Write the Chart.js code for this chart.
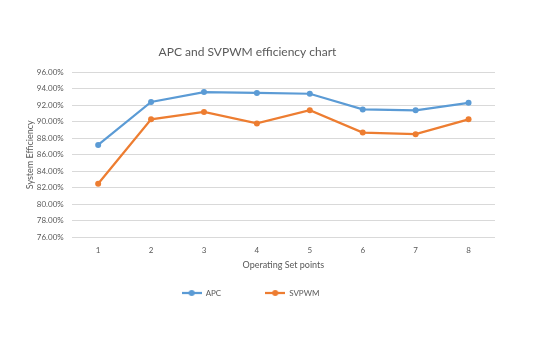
<!DOCTYPE html>
<html>
<head>
<meta charset="utf-8">
<script src="https://cdn.jsdelivr.net/npm/chart.js@4/dist/chart.umd.min.js"></script>
<style>
  html, body { margin: 0; padding: 0; background: #ffffff; }
  #wrap { width: 546px; height: 337px; }
</style>
</head>
<body>
<div id="wrap"><canvas id="c" width="546" height="337"></canvas></div>
<script>
// Operating set points and measured system efficiency (%) per controller
const setPoints = ['1', '2', '3', '4', '5', '6', '7', '8'];
const apcEfficiency = [87.2, 92.4, 93.6, 93.5, 93.4, 91.5, 91.4, 92.3];
const svpwmEfficiency = [82.5, 90.3, 91.2, 89.8, 91.4, 88.7, 88.5, 90.3];
const seriesNames = ['APC', 'SVPWM'];
const seriesColors = ['#5b9bd5', '#ed7d31'];
const yMin = 76, yMax = 96, yStep = 2;

const FONT = 'Lato, "Open Sans", "Liberation Sans", sans-serif';
const TEXT = '#595959';
const LEGEND_GAP = 44;

// Legend marker: short line with a dot in the middle, like the plotted series
function lineMarker(color) {
  const cv = document.createElement('canvas');
  cv.width = 20; cv.height = 8;
  const g = cv.getContext('2d');
  g.strokeStyle = color;
  g.lineWidth = 2.25;
  g.beginPath(); g.moveTo(0, 4); g.lineTo(20, 4); g.stroke();
  g.fillStyle = color;
  g.beginPath(); g.arc(10, 4, 3, 0, Math.PI * 2); g.fill();
  return cv;
}
const markers = seriesColors.map(lineMarker);

// Keep the legend box compact while leaving wide gaps between its items:
// the layout sees a 20px box, and drawing starts the row near its top.
const compactLegend = {
  id: 'compactLegend',
  beforeLayout(chart) {
    const lg = chart.legend;
    if (lg && !lg._compact) {
      const fit = lg.fit.bind(lg);
      const draw = lg.draw.bind(lg);
      lg.fit = function () { fit(); this.height = 20; };
      lg.draw = function () {
        const shift = LEGEND_GAP - 6;
        const top = this.top, h = this.height, left = this.left, right = this.right;
        this.top = top - shift; this.height = h + shift;
        this.left = left + 3; this.right = right + 3;
        draw();
        this.top = top; this.height = h; this.left = left; this.right = right;
      };
      lg._compact = true;
    }
  }
};

new Chart(document.getElementById('c'), {
  type: 'line',
  data: {
    labels: setPoints,
    datasets: [
      { label: seriesNames[0], data: apcEfficiency, borderColor: seriesColors[0], backgroundColor: seriesColors[0],
        borderWidth: 2.25, pointRadius: 3, pointBorderWidth: 0, pointHoverRadius: 3, tension: 0 },
      { label: seriesNames[1], data: svpwmEfficiency, borderColor: seriesColors[1], backgroundColor: seriesColors[1],
        borderWidth: 2.25, pointRadius: 3, pointBorderWidth: 0, pointHoverRadius: 3, tension: 0 }
    ]
  },
  options: {
    responsive: false,
    animation: false,
    events: [],
    layout: { padding: { left: 0, right: 51, top: 0, bottom: 34 } },
    plugins: {
      tooltip: { enabled: false },
      title: {
        display: true,
        text: 'APC and SVPWM efficiency chart',
        color: TEXT,
        font: { family: FONT, size: 12, weight: 'normal' },
        padding: { top: 44.8, bottom: 13.1 }
      },
      legend: {
        position: 'bottom',
        labels: {
          usePointStyle: true,
          pointStyleWidth: 20,
          padding: LEGEND_GAP,
          color: TEXT,
          font: { family: FONT, size: 8 },
          generateLabels(chart) {
            const items = Chart.defaults.plugins.legend.labels.generateLabels(chart);
            items.forEach((it, i) => { it.pointStyle = markers[i]; });
            return items;
          }
        }
      }
    },
    scales: {
      x: {
        offset: true,
        grid: { display: false, drawTicks: false },
        border: { display: false },
        ticks: { color: TEXT, font: { family: FONT, size: 8 }, padding: 8.6 },
        title: {
          display: true, text: 'Operating Set points', color: TEXT,
          font: { family: FONT, size: 9 }, padding: { top: 0, bottom: 12.6 }
        },
        afterFit(s) { s.height = 45.7; }
      },
      y: {
        min: yMin, max: yMax,
        grid: { color: '#d9d9d9', lineWidth: 1, drawTicks: false },
        border: { display: false },
        ticks: {
          stepSize: yStep, color: TEXT, font: { family: FONT, size: 8 }, padding: 8,
          callback: v => v.toFixed(2) + '%'
        },
        title: {
          display: true, text: 'System Efficiency', color: TEXT,
          font: { family: FONT, size: 9 }, padding: { top: 25, bottom: 0 }
        },
        afterFit(s) { s.width = 71.7; }
      }
    }
  },
  plugins: [compactLegend]
});
</script>
</body>
</html>
